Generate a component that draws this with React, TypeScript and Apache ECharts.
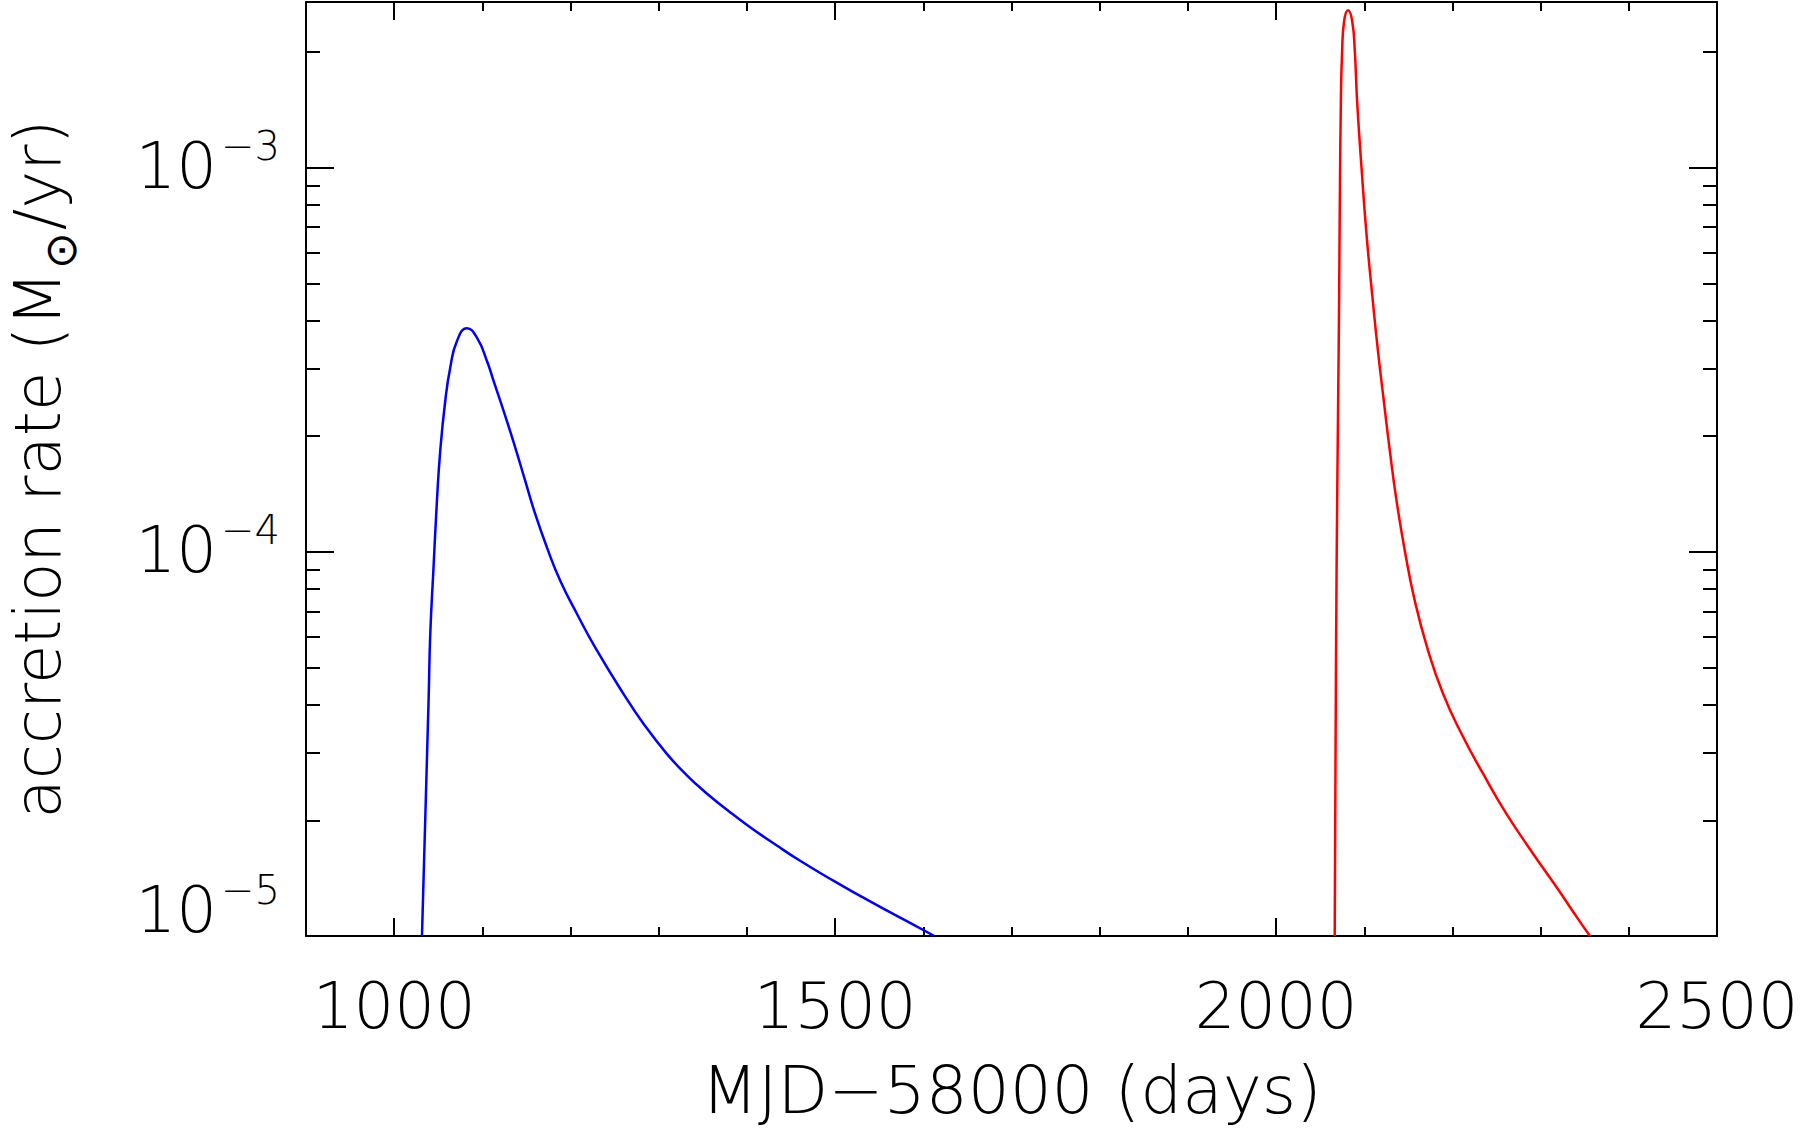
import React, { useEffect, useRef } from "react";
import * as echarts from "echarts";

// MJD-58000 (days) and accretion rate (Msun/yr)
const blueDays = [
  1031.5, 1039.0, 1040.9, 1044.6, 1048.5, 1052.2, 1057.9, 1063.6, 1071.2, 1082.5, 1093.8, 1105.2,
  1112.6, 1125.9, 1137.2, 1148.6, 1159.9, 1173.2, 1188.2, 1207.2, 1227.9, 1260.0, 1282.7, 1309.2,
  1331.9, 1354.5, 1380.9, 1403.6, 1433.9, 1460.3, 1498.0, 1528.3, 1554.7, 1585.0, 1612.5,
];
const blueRate = [
  1.0e-5, 4.1e-5, 6.1e-5, 9.1e-5, 1.36e-4, 1.83e-4, 2.47e-4, 3.02e-4, 3.54e-4, 3.82e-4, 3.61e-4,
  3.14e-4, 2.79e-4, 2.26e-4, 1.87e-4, 1.53e-4, 1.255e-4, 1.027e-4, 8.42e-5, 6.9e-5, 5.64e-5,
  4.27e-5, 3.57e-5, 2.98e-5, 2.62e-5, 2.35e-5, 2.1e-5, 1.92e-5, 1.72e-5, 1.57e-5, 1.393e-5,
  1.272e-5, 1.178e-5, 1.082e-5, 1.0e-5,
];

const redDays = [
  2066.5, 2067.5, 2068.6, 2070.4, 2071.5, 2072.3, 2073.5, 2074.9, 2077.2, 2081.7, 2086.3, 2089.3,
  2091.9, 2096.9, 2102.6, 2109.7, 2115.5, 2122.2, 2129.0, 2136.6, 2146.0, 2157.3, 2172.4, 2189.4,
  2210.3, 2234.8, 2261.3, 2291.5, 2318.0, 2342.4, 2356.0,
];
const redRate = [
  1.0e-5, 3.14e-5, 8.8e-5, 2.47e-4, 4.5e-4, 8.2e-4, 1.49e-3, 2.01e-3, 2.41e-3, 2.57e-3, 2.41e-3,
  2.01e-3, 1.49e-3, 1.0e-3, 6.7e-4, 4.5e-4, 3.34e-4, 2.47e-4, 1.833e-4, 1.359e-4, 1.007e-4,
  7.46e-5, 5.53e-5, 4.27e-5, 3.36e-5, 2.645e-5, 2.08e-5, 1.638e-5, 1.341e-5, 1.108e-5, 1.0e-5,
];

const xMajor = [1000, 1500, 2000, 2500];
const xMinor = [1100, 1200, 1300, 1400, 1600, 1700, 1800, 1900, 2100, 2200, 2300, 2400];
const yMinor = [
  2e-5, 3e-5, 4e-5, 5e-5, 6e-5, 7e-5, 8e-5, 9e-5,
  2e-4, 3e-4, 4e-4, 5e-4, 6e-4, 7e-4, 8e-4, 9e-4,
  2e-3,
];

const FONT = '"DejaVu Sans", sans-serif';
const X_MIN = 900;
const X_MAX = 2500;
const Y_MIN = 1e-5;
const Y_MAX = 2.7e-3;

const App = () => {
  const chartRef = useRef(null);

  useEffect(() => {
    document.body.style.margin = "0";
    const chart = echarts.init(chartRef.current, null, { renderer: "svg" });

    const line = { lineStyle: { color: "#000", width: 2 } };
    const tick = (len, values?) => ({
      show: true,
      inside: true,
      length: len,
      lineStyle: { color: "#000", width: 2 },
      ...(values ? { customValues: values } : {}),
    });

    const xBase = { type: "value", min: X_MIN, max: X_MAX, splitLine: { show: false }, nameMoveOverlap: false };
    const yBase = {
      type: "log",
      logBase: 10,
      min: Y_MIN,
      max: Y_MAX,
      splitLine: { show: false },
      nameMoveOverlap: false,
    };
    const txt = { color: "#000", fontFamily: FONT, fontWeight: 200 };

    const option = {
      animation: false,
      grid: { left: 306, right: 85, top: 2, bottom: 199, containLabel: false, outerBoundsMode: "none" },
      xAxis: [
        {
          ...xBase,
          position: "bottom",
          axisLine: { show: true, onZero: false, ...line },
          axisTick: tick(18, xMajor),
          axisLabel: {
            customValues: xMajor,
            margin: 38,
            ...txt,
            fontSize: 64,
            formatter: (v) => String(v),
          },
          name: "MJD\u221258000 (days)",
          nameLocation: "middle",
          nameGap: 121,
          nameTextStyle: { ...txt, fontSize: 66 },
        },
        { ...xBase, position: "bottom", axisLine: { show: false }, axisTick: tick(9, xMinor), axisLabel: { show: false } },
        {
          ...xBase,
          position: "top",
          axisLine: { show: true, onZero: false, ...line },
          axisTick: tick(18, xMajor),
          axisLabel: { show: false },
        },
        { ...xBase, position: "top", axisLine: { show: false }, axisTick: tick(9, xMinor), axisLabel: { show: false } },
      ],
      yAxis: [
        {
          ...yBase,
          position: "left",
          interval: 1,
          axisLine: { show: true, onZero: false, ...line },
          axisTick: tick(28),
          axisLabel: {
            margin: 26,
            showMaxLabel: false,
            ...txt,
            formatter: (v) => {
              const p = Math.round(Math.log10(v));
              const s = `{b|10}{e|\u2212${-p}}`;
              // the lowest label sits above its tick
              return p === -5 ? s + "\n{g| }" : s + "\n{h| }";
            },
            rich: {
              b: { ...txt, fontSize: 64, lineHeight: 72, verticalAlign: "bottom" },
              e: { ...txt, fontSize: 40, lineHeight: 40, verticalAlign: "top", padding: [0, 0, 0, 4] },
              g: { fontSize: 2, lineHeight: 60 },
              h: { fontSize: 2, lineHeight: 12 },
            },
          },
          name: "{n|accretion rate (M}{s|\u2299}{n|/yr)}",
          nameLocation: "middle",
          nameGap: 236,
          nameTextStyle: {
            rich: {
              n: { ...txt, fontSize: 64, lineHeight: 64, verticalAlign: "top" },
              s: { ...txt, fontSize: 44, lineHeight: 44, verticalAlign: "top", padding: [32, 2, 0, 2] },
            },
          },
        },
        { ...yBase, position: "left", axisLine: { show: false }, axisTick: tick(14, yMinor), axisLabel: { show: false } },
        {
          ...yBase,
          position: "right",
          interval: 1,
          axisLine: { show: true, onZero: false, ...line },
          axisTick: tick(28),
          axisLabel: { show: false },
        },
        { ...yBase, position: "right", axisLine: { show: false }, axisTick: tick(14, yMinor), axisLabel: { show: false } },
      ],
      series: [
        {
          type: "line",
          xAxisIndex: 0,
          yAxisIndex: 0,
          data: blueDays.map((d, i) => [d, blueRate[i]]),
          showSymbol: false,
          smooth: 0.5,
          lineStyle: { color: "#0000ff", width: 2.5 },
          clip: true,
        },
        {
          type: "line",
          xAxisIndex: 0,
          yAxisIndex: 0,
          data: redDays.map((d, i) => [d, redRate[i]]),
          showSymbol: false,
          smooth: 0.5,
          lineStyle: { color: "#ff0000", width: 2.5 },
          clip: true,
        },
      ],
    };

    chart.setOption(option);

    return () => {
      chart.dispose();
    };
  }, []);

  return <div ref={chartRef} style={{ width: "1802px", height: "1135px" }} />;
};

export default App;
